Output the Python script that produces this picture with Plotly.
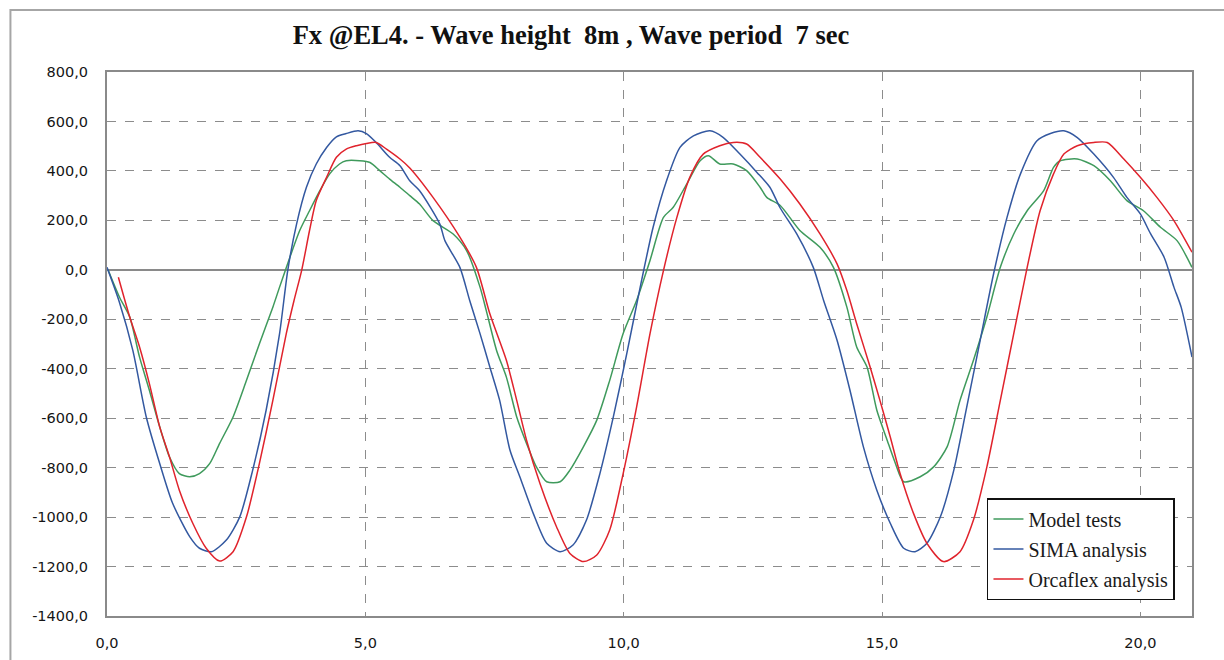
import plotly.graph_objects as go

# Time axis in seconds, force in kN
model_t = [0.02, 0.24, 0.44, 0.63, 0.82, 1.02, 1.21, 1.40, 1.60, 1.79, 1.99, 2.18, 2.44, 2.70,
           2.95, 3.21, 3.34, 3.54, 3.73, 3.92, 4.12, 4.31, 4.50, 4.63, 4.89, 5.09, 5.28, 5.47,
           5.67, 5.86, 6.05, 6.31, 6.70, 6.96, 7.22, 7.34, 7.54, 7.73, 7.93, 8.12, 8.31, 8.51,
           8.77, 8.96, 9.22, 9.48, 9.73, 9.99, 10.25, 10.51, 10.77, 10.96, 11.22, 11.48, 11.64,
           11.86, 12.12, 12.38, 12.64, 12.77, 13.03, 13.41, 13.80, 14.06, 14.32, 14.51, 14.71,
           14.90, 15.10, 15.26, 15.42, 15.74, 16.00, 16.26, 16.51, 16.77, 17.03, 17.29, 17.55,
           17.81, 18.13, 18.32, 18.45, 18.78, 19.10, 19.42, 19.74, 20.06, 20.39, 20.71, 21.00]
model_fx = [0, -110, -191, -353, -487, -635, -757, -824, -837, -824, -783, -702, -595, -447,
            -299, -151, -70, 51, 159, 239, 320, 388, 428, 441, 441, 434, 401, 367,
            334, 300, 266, 199, 145, 78, -70, -164, -326, -434, -595, -702, -797, -857,
            -857, -810, -716, -608, -447, -258, -124, 38, 212, 253, 347, 441, 461,
            428, 428, 401, 334, 293, 260, 159, 91, 10, -151, -312, -393,
            -568, -689, -783, -857, -837, -797, -716, -528, -366, -191, 10, 145,
            239, 320, 414, 441, 448, 421, 360, 280, 239, 172, 118, 10]

sima_t = [0.00, 0.24, 0.50, 0.76, 1.02, 1.27, 1.60, 1.79, 2.02, 2.31, 2.57, 2.82, 3.08, 3.34,
          3.50, 3.67, 3.86, 4.05, 4.25, 4.44, 4.63, 4.86, 5.02, 5.21, 5.47, 5.67, 5.86, 6.05,
          6.44, 6.54, 6.83, 7.02, 7.22, 7.41, 7.60, 7.80, 7.99, 8.25, 8.51, 8.77, 9.02, 9.28,
          9.54, 9.80, 10.06, 10.32, 10.57, 10.83, 11.09, 11.35, 11.67, 11.93, 12.25, 12.58,
          12.83, 13.03, 13.35, 13.67, 13.87, 14.13, 14.38, 14.64, 14.90, 15.16, 15.42, 15.64,
          15.87, 16.13, 16.39, 16.64, 16.90, 17.16, 17.42, 17.68, 18.00, 18.26, 18.52, 18.78,
          19.10, 19.48, 19.74, 20.00, 20.20, 20.46, 20.65, 20.79, 21.00]
sima_fx = [10, -131, -326, -595, -783, -944, -1079, -1126, -1140, -1093, -999, -810, -568, -258,
           0, 186, 334, 428, 495, 538, 551, 562, 551, 515, 455, 421, 360, 320,
           186, 118, 10, -124, -258, -393, -528, -730, -837, -985, -1106, -1140, -1113, -1012,
           -824, -595, -339, -70, 172, 360, 495, 542, 562, 535, 468, 394,
           334, 250, 145, 10, -124, -285, -487, -716, -891, -1025, -1126, -1140,
           -1106, -999, -810, -555, -285, -16, 212, 388, 522, 551, 562, 535,
           468, 374, 293, 226, 145, 51, -70, -151, -353]

orca_t = [0.22, 0.44, 0.63, 0.82, 1.02, 1.21, 1.40, 1.66, 1.92, 2.18, 2.44, 2.70, 2.95, 3.21,
          3.47, 3.62, 3.77, 3.92, 4.05, 4.25, 4.44, 4.63, 4.83, 5.02, 5.21, 5.41, 5.67, 5.86,
          6.31, 6.83, 7.15, 7.41, 7.73, 7.93, 8.12, 8.38, 8.70, 8.96, 9.22, 9.48, 9.73, 9.99,
          10.25, 10.51, 10.77, 11.03, 11.28, 11.54, 11.86, 12.12, 12.38, 12.64, 13.03, 13.41,
          13.80, 14.13, 14.32, 14.51, 14.77, 14.96, 15.16, 15.35, 15.61, 15.87, 16.19, 16.51,
          16.77, 17.03, 17.29, 17.55, 17.81, 18.06, 18.32, 18.52, 18.78, 19.10, 19.36, 19.68,
          20.00, 20.32, 20.65, 21.00]
orca_fx = [-30, -191, -312, -460, -635, -757, -891, -1025, -1126, -1178, -1140, -999, -783, -528,
           -258, -124, 0, 159, 280, 374, 455, 488, 502, 511, 515, 488, 448, 412,
           293, 132, 10, -178, -366, -528, -689, -864, -1039, -1147, -1180, -1153, -1052, -824,
           -555, -258, -3, 212, 374, 468, 502, 515, 509, 455, 367, 266,
           145, 24, -84, -218, -393, -528, -676, -824, -985, -1106, -1180, -1140,
           -1012, -797, -528, -258, 10, 239, 388, 468, 502, 515, 515, 448,
           374, 293, 199, 71]

series_names = ["Model tests", "SIMA analysis", "Orcaflex analysis"]
series_colors = ["#3f9a5c", "#3358a0", "#e0232c"]

x_ticks = [0, 5, 10, 15, 20]
x_tick_text = ["0,0", "5,0", "10,0", "15,0", "20,0"]
y_ticks = [800, 600, 400, 200, 0, -200, -400, -600, -800, -1000, -1200, -1400]
y_tick_text = ["800,0", "600,0", "400,0", "200,0", "0,0", "-200,0", "-400,0", "-600,0",
               "-800,0", "-1000,0", "-1200,0", "-1400,0"]

fig = go.Figure()
for name, color, xs, ys in zip(series_names, series_colors,
                               [model_t, sima_t, orca_t],
                               [model_fx, sima_fx, orca_fx]):
    fig.add_trace(go.Scatter(
        x=xs, y=ys, name=name, mode="lines", legendgroup=name,
        line=dict(color=color, width=1.5, shape="spline", smoothing=0.7),
    ))

tick_font = dict(family="DejaVu Sans", size=14.5, color="#151515")

fig.update_layout(
    width=1224, height=660,
    margin=dict(l=107, r=32, t=72, b=44),
    paper_bgcolor="white", plot_bgcolor="white",
    title=dict(
        text="Fx @EL4. - Wave height\u00a0 8m , Wave period\u00a0 7 sec",
        font=dict(family="Liberation Serif", size=26.5, color="#111111", weight="bold"),
        xref="container", yref="container", x=571 / 1224, y=1 - 35 / 660,
        xanchor="center", yanchor="middle",
    ),
    xaxis=dict(
        range=[0, 21], tickvals=x_ticks, ticktext=x_tick_text, tickfont=tick_font,
        showgrid=True, gridcolor="#8c8c8c", griddash="dash", gridwidth=1,
        showline=True, linecolor="#8a8a8a", linewidth=2, mirror=True,
        ticks="", ticklabelstandoff=13, zeroline=False, automargin=False,
    ),
    yaxis=dict(
        range=[-1400, 800], tickvals=y_ticks, ticktext=y_tick_text, tickfont=tick_font,
        showgrid=True, gridcolor="#8c8c8c", griddash="dash", gridwidth=1,
        showline=True, linecolor="#8a8a8a", linewidth=2, mirror=True,
        ticks="", ticklabelstandoff=14, automargin=False,
        zeroline=True, zerolinecolor="#8a8a8a", zerolinewidth=1.5,
    ),
    legend=dict(
        x=0.9843, y=0.0294, xanchor="right", yanchor="bottom",
        bgcolor="white", bordercolor="#111111", borderwidth=1.5,
        font=dict(family="Liberation Serif", size=20, color="#1a1a1a"),
        tracegroupgap=1, itemwidth=30,
    ),
    showlegend=True,
)

# outer chart frame
fig.add_shape(type="rect", xref="paper", yref="paper",
              x0=-0.089, x1=1.04, y0=-0.12, y1=1.114,
              line=dict(color="#a6a6a6", width=2), layer="below")

fig.write_html("out.html")
